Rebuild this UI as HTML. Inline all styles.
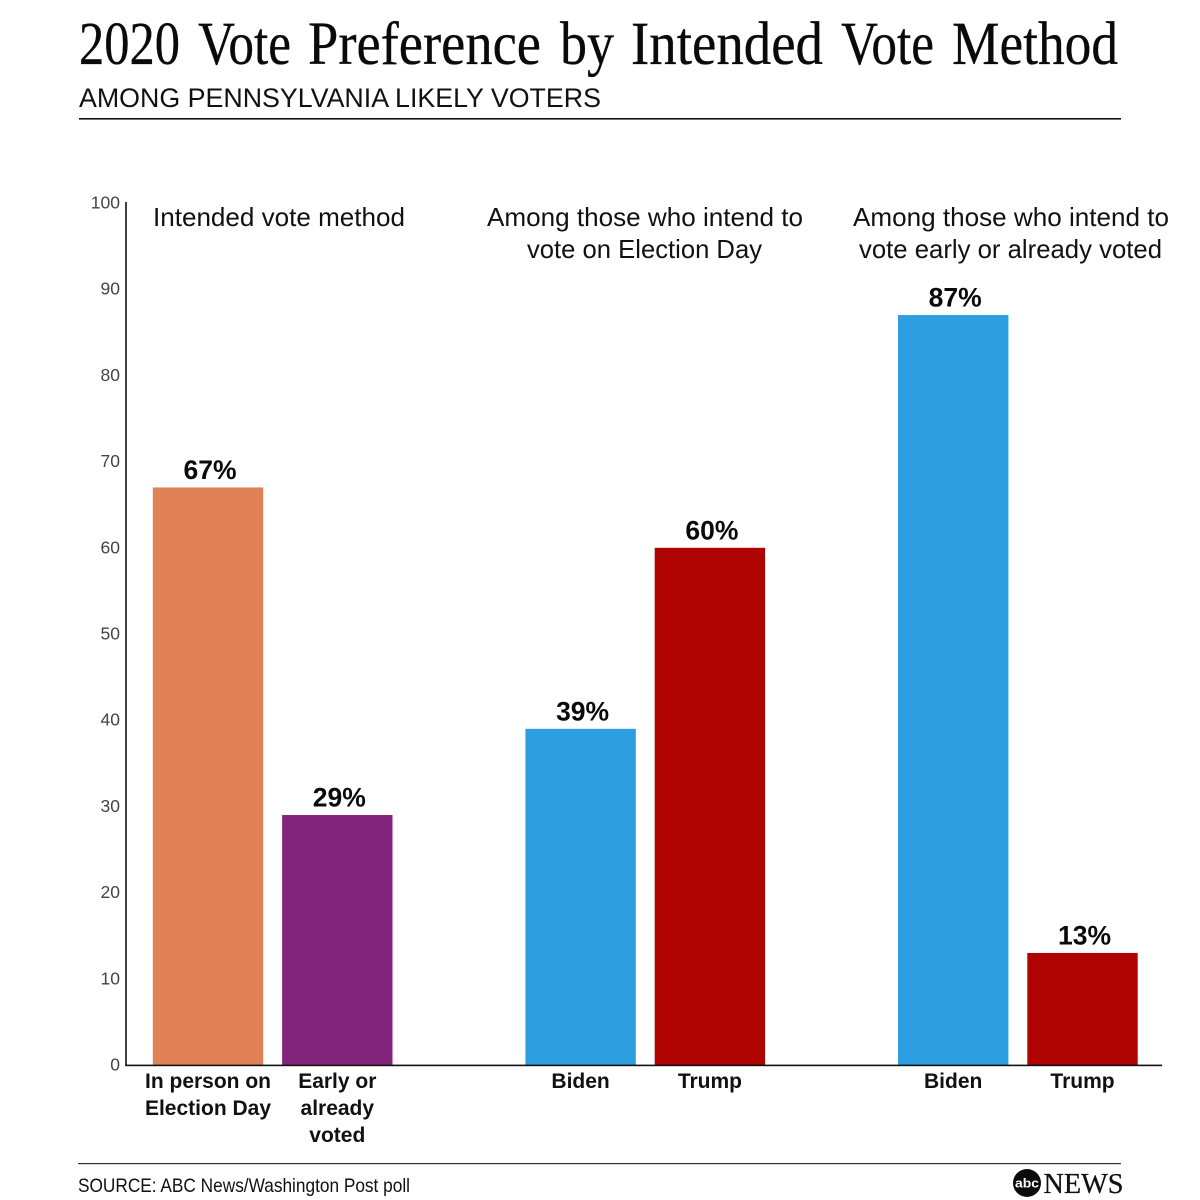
<!DOCTYPE html>
<html lang="en">
<head>
<meta charset="utf-8">
<title>2020 Vote Preference by Intended Vote Method</title>
<style>
html,body{margin:0;padding:0;background:#fff;}
svg{display:block;font-family:"Liberation Sans",sans-serif;}
</style>
</head>
<body>
<svg id="chart" xmlns="http://www.w3.org/2000/svg" width="1200" height="1200" viewBox="0 0 1200 1200">
  <rect x="0" y="0" width="1200" height="1200" fill="#fff"/>
  <text y="64" font-family="'Liberation Serif',serif" font-size="61" fill="#0a0a0a" stroke="#0a0a0a" stroke-width="0.3"><tspan x="79" textLength="101" lengthAdjust="spacingAndGlyphs">2020</tspan> <tspan x="198" textLength="93" lengthAdjust="spacingAndGlyphs">Vote</tspan> <tspan x="308" textLength="233" lengthAdjust="spacingAndGlyphs">Preference</tspan> <tspan x="560" textLength="54" lengthAdjust="spacingAndGlyphs">by</tspan> <tspan x="631" textLength="192" lengthAdjust="spacingAndGlyphs">Intended</tspan> <tspan x="841" textLength="93" lengthAdjust="spacingAndGlyphs">Vote</tspan> <tspan x="952" textLength="166" lengthAdjust="spacingAndGlyphs">Method</tspan></text>
  <text x="79" y="107" font-size="26.5" fill="#111" textLength="522" lengthAdjust="spacingAndGlyphs">AMONG PENNSYLVANIA LIKELY VOTERS</text>
  <rect x="79" y="118" width="1042" height="1.6" fill="#111"/>

  <text x="153" y="226" font-size="26" fill="#111" textLength="252" lengthAdjust="spacingAndGlyphs">Intended vote method</text>
  <text x="487" y="226" font-size="26" fill="#111" textLength="316" lengthAdjust="spacingAndGlyphs">Among those who intend to</text>
  <text x="527" y="258" font-size="26" fill="#111" textLength="235" lengthAdjust="spacingAndGlyphs">vote on Election Day</text>
  <text x="853" y="226" font-size="26" fill="#111" textLength="316" lengthAdjust="spacingAndGlyphs">Among those who intend to</text>
  <text x="859" y="258" font-size="26" fill="#111" textLength="303" lengthAdjust="spacingAndGlyphs">vote early or already voted</text>

  <g id="ticks"></g>
  <g id="bars"></g>
  <g id="values"></g>
  <g id="cats"></g>

  <rect x="125.2" y="202" width="1.6" height="864" fill="#111"/>
  <rect x="125.2" y="1064.6" width="1037" height="1.6" fill="#111"/>

  <rect x="78" y="1163" width="1043" height="1.2" fill="#333"/>
  <text x="78" y="1192" font-size="19.5" fill="#111" textLength="332" lengthAdjust="spacingAndGlyphs">SOURCE: ABC News/Washington Post poll</text>
  <g>
    <circle cx="1027" cy="1183" r="14" fill="#0a0a0a"/>
    <text x="1015" y="1187.5" font-size="13" font-weight="bold" fill="#fff" textLength="24" lengthAdjust="spacingAndGlyphs">abc</text>
    <text x="1043.5" y="1193" font-family="'Liberation Serif',serif" font-size="29" fill="#111" stroke="#111" stroke-width="0.3" textLength="80" lengthAdjust="spacingAndGlyphs">NEWS</text>
  </g>
</svg>
<script>
var tickLabels = [0, 10, 20, 30, 40, 50, 60, 70, 80, 90, 100];
var categories = [
  ["In person on", "Election Day"],
  ["Early or", "already", "voted"],
  ["Biden"],
  ["Trump"],
  ["Biden"],
  ["Trump"]
];
var seriesValues = [67, 29, 39, 60, 87, 13];
var barColors = ["#e08256", "#82247a", "#2d9fe0", "#ae0300", "#2d9fe0", "#ae0300"];
var groupOf = [0, 0, 1, 1, 2, 2];
var memberOf = [0, 1, 0, 1, 0, 1];

var NS = "http://www.w3.org/2000/svg";
function yScale(v) { return 1065 - v * 8.62; }
function xScale(i) { return 152.8 + groupOf[i] * 372.6 + memberOf[i] * 129.3; }
var BAR_WIDTH = 110.4;

function make(tag, attrs, parent, text) {
  var el = document.createElementNS(NS, tag);
  for (var k in attrs) el.setAttribute(k, attrs[k]);
  if (text !== undefined) el.textContent = text;
  parent.appendChild(el);
  return el;
}

var ticksG = document.getElementById("ticks");
var barsG = document.getElementById("bars");
var valuesG = document.getElementById("values");
var catsG = document.getElementById("cats");

tickLabels.forEach(function (t) {
  var el = make("text", {
    x: 120, y: yScale(t) + 5.5, "text-anchor": "end",
    "font-size": 17.5, fill: "#444"
  }, ticksG, String(t));
  
  
});

seriesValues.forEach(function (v, i) {
  var x = xScale(i);
  var bar = make("rect", {
    x: x, y: yScale(v), width: BAR_WIDTH, height: yScale(0) - yScale(v),
    fill: barColors[i]
  }, barsG);
  
  

  var label = make("text", {
    x: x + BAR_WIDTH / 2 + 2, y: yScale(v) - 8.5, "text-anchor": "middle",
    "font-size": 26.5, "font-weight": "bold", fill: "#0a0a0a"
  }, valuesG, v + "%");
  
  

  categories[i].forEach(function (line, j) {
    var cat = make("text", {
      x: x + BAR_WIDTH / 2,
      y: 1088 + j * 27, "text-anchor": "middle",
      "font-size": 21, "font-weight": "bold", fill: "#111"
    }, catsG, line);
    
    
  });
});
</script>
</body>
</html>
